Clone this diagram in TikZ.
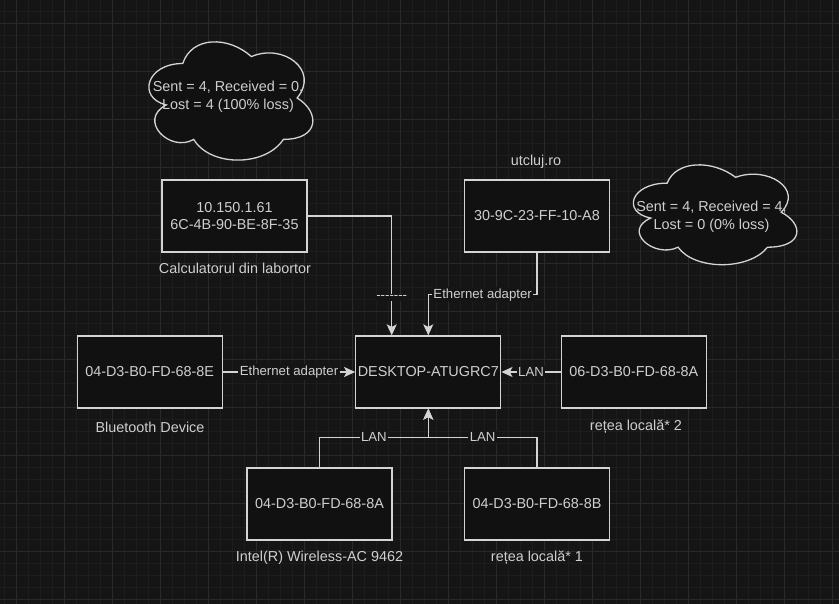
\documentclass[tikz,border=0pt]{standalone}
\usepackage{fontspec}
\setmainfont{Liberation Sans}[Ligatures=TeXOff]
\usepackage{tikz}
\usetikzlibrary{arrows.meta,positioning,calc}
\definecolor{dkBack}{HTML}{151515}
\definecolor{dkFill}{HTML}{111111}
\definecolor{dkMinor}{HTML}{1D1D1D}
\definecolor{dkMajor}{HTML}{292929}
\definecolor{dkLine}{HTML}{D4D4D4}
\definecolor{dkText}{HTML}{CFCFCF}
\newcommand{\drawcloud}[4]{%
  \draw[dkLine, fill=dkFill, line width=1.3pt, shift={(#1,#2)}, xscale=#3, yscale=#4]
    (0.25,0.25) .. controls (0.05,0.25) and (0,0.5) .. (0.16,0.55)
    .. controls (0,0.66) and (0.18,0.9) .. (0.31,0.8)
    .. controls (0.4,1) and (0.7,1) .. (0.8,0.8)
    .. controls (1,0.8) and (1,0.6) .. (0.875,0.5)
    .. controls (1,0.3) and (0.8,0.1) .. (0.625,0.2)
    .. controls (0.5,0.05) and (0.3,0.05) .. (0.25,0.25) -- cycle;}

\begin{document}
\begin{tikzpicture}[x=1pt, y=-1pt,
  font=\fontsize{14.4}{17.6}\selectfont,
  box/.style={draw=dkLine, fill=dkFill, line width=1.3pt, minimum width=145pt,
              minimum height=72pt, inner sep=0pt, align=center, text=dkText},
  capt/.style={text=dkText, align=center},
  elbl/.style={fill=dkBack, text=dkText, inner sep=1.5pt,
               font=\fontsize{13.2}{15}\selectfont},
  arr/.style={-{Stealth[length=11pt, width=10pt, inset=2.5pt]}, dkLine, line width=1.3pt}]

\useasboundingbox (0,0) rectangle (839,604);
\fill[dkBack] (0,0) rectangle (839,604);
\foreach \gx in {4.5,16.5,...,838} \draw[dkMinor, line width=0.8pt] (\gx,0) -- (\gx,604);
\foreach \gy in {11.5,23.5,...,603} \draw[dkMinor, line width=0.8pt] (0,\gy) -- (839,\gy);
\foreach \gx in {16.5,64.5,...,838} \draw[dkMajor, line width=0.8pt] (\gx,0) -- (\gx,604);
\foreach \gy in {23.5,71.5,...,603} \draw[dkMajor, line width=0.8pt] (0,\gy) -- (839,\gy);

\drawcloud{137}{29}{183}{138}
\drawcloud{621.5}{154}{182.5}{116.5}
\node[capt] (pingA) at (228,97) {Sent = 4, Received = 0,\\ Lost = 4 (100\% loss)};
\node[capt] (pingB) at (711.5,217) {Sent = 4, Received = 4,\\ Lost = 0 (0\% loss)};

\node[box] (lab) at (234.5,216) {10.150.1.61\\ 6C-4B-90-BE-8F-35};
\node[box] (utc) at (537,216) {30-9C-23-FF-10-A8};
\node[box] (desk) at (428.3,372) {DESKTOP-ATUGRC7};
\node[box] (bt) at (149.7,372) {04-D3-B0-FD-68-8E};
\node[box] (lanB) at (633.8,372) {06-D3-B0-FD-68-8A};
\node[box] (wifi) at (319.5,504) {04-D3-B0-FD-68-8A};
\node[box] (lanA) at (537,504) {04-D3-B0-FD-68-8B};

\node[capt] (labname) at (235,268) {Calculatorul din labortor};
\node[capt] (utcname) at (536,162) {utcluj.ro};
\node[capt] (btname) at (150,427) {Bluetooth Device};
\node[capt] (lanBname) at (636,427) {rețea locală* 2};
\node[capt] (wifiname) at (319.5,558) {Intel(R) Wireless-AC 9462};
\node[capt] (lanAname) at (537,558) {rețea locală* 1};

\coordinate (dtop) at ($(desk.north west)!0.25!(desk.north east)$);
\draw[arr] (lab.east) -| node[elbl, pos=0.84]{-------} (dtop);
\draw[arr] (utc.south) -- ++(0,42) -| node[elbl, pos=0.25]{Ethernet adapter} (desk.north);
\draw[arr] (bt) -- node[elbl]{Ethernet adapter} (desk);
\draw[arr] (lanB) -- node[elbl]{LAN} (desk);
\draw[arr] (wifi.north) -- ++(0,-30) -| node[elbl, pos=0.25]{LAN} (desk.south);
\draw[arr] (lanA.north) -- ++(0,-30) -| node[elbl, pos=0.25]{LAN} (desk.south);
\end{tikzpicture}
\end{document}
